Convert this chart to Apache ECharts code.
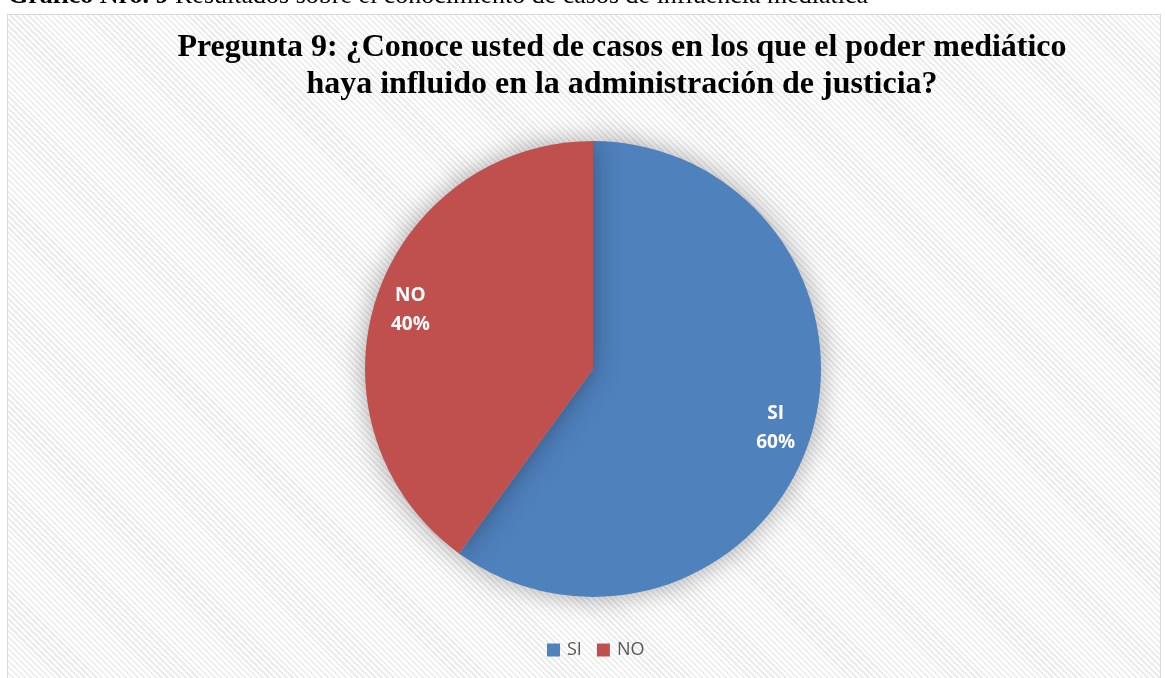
<!DOCTYPE html>
<html><head><meta charset="utf-8">
<script src="https://cdn.jsdelivr.net/npm/echarts@6/dist/echarts.min.js"></script>
<style>
html,body{margin:0;padding:0;background:#fff;width:1165px;height:678px;overflow:hidden;}
#frame{position:absolute;left:7px;top:14px;width:1154px;height:670px;border:1.5px solid #d9d9d9;box-sizing:border-box;
background:repeating-linear-gradient(45deg,#ffffff 0px,#ffffff 2.5px,#ececec 2.5px,#ececec 4.2px);}
#chart{position:absolute;left:0;top:0;width:1165px;height:678px;}
</style></head>
<body>
<div id="frame"></div>
<div id="chart"></div>
<script>
const categories = ['SI', 'NO'];
const values = [60, 40];
const colors = ['#4F81BD', '#C0504D'];
const titleLines = ['Pregunta 9: ¿Conoce usted de casos en los que el poder mediático', 'haya influido en la administración de justicia?'];
const captionBold = 'Gráfico Nro. 9';
const captionText = ' Resultados sobre el conocimiento de casos de influencia mediática';

const data = categories.map((c, i) => ({ name: c, value: values[i], itemStyle: { color: colors[i] } }));
const chart = echarts.init(document.getElementById('chart'), null, { renderer: 'canvas' });
chart.setOption({
  backgroundColor: 'transparent',
  animation: false,
  title: {
    text: titleLines.join('\n'),
    left: 617, top: 24, textAlign: 'center',
    textStyle: { fontFamily: 'Liberation Serif', fontWeight: 'bold', fontSize: 32, color: '#000', lineHeight: 37 }
  },
  graphic: [{
    type: 'text', left: 8, top: -17,
    style: {
      text: '{b|' + captionBold + '}{n|' + captionText + '}',
      rich: {
        b: { fontFamily: 'Liberation Serif', fontWeight: 'bold', fontSize: 26, fill: '#000' },
        n: { fontFamily: 'Liberation Serif', fontSize: 26, fill: '#000' }
      }
    }
  }],
  legend: {
    data: categories, bottom: 14, left: 542, itemWidth: 13, itemHeight: 13, itemGap: 15,
    icon: 'rect',
    textStyle: { fontFamily: 'Open Sans', fontSize: 18, color: '#595959', padding: [0,0,0,2] }
  },
  series: [{
    type: 'pie', center: [593, 369], radius: [0, 228], startAngle: 90, clockwise: true,
    data: data, label: { show: false }, labelLine: { show: false }, silent: true,
    itemStyle: { shadowBlur: 28, shadowColor: 'rgba(0,0,0,0.35)', borderWidth: 0 }
  }, {
    type: 'pie', center: [593, 369], radius: [150, 228], startAngle: 90, clockwise: true,
    data: categories.map((c, i) => ({ name: c, value: values[i] })),
    itemStyle: { color: 'rgba(0,0,0,0)' }, silent: true, legendHoverLink: false,
    label: {
      show: true, position: 'inside', formatter: '{b}\n{d}%',
      fontFamily: 'Open Sans', fontWeight: 'bold', fontSize: 19, color: '#fff', lineHeight: 29
    }, labelLine: { show: false }
  }]
});
</script>
</body></html>
